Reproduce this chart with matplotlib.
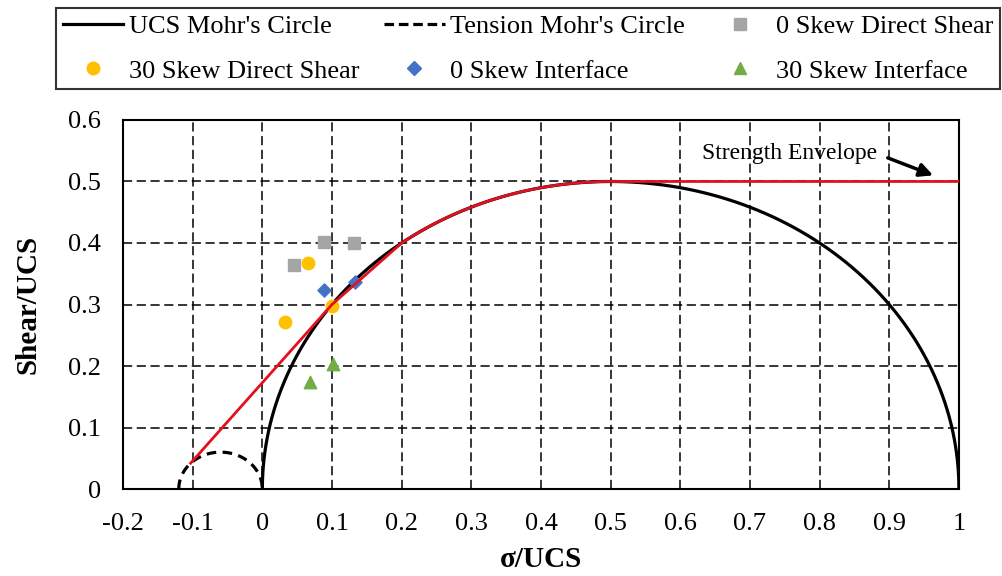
import numpy as np
import matplotlib.pyplot as plt
from matplotlib.lines import Line2D

plt.rcParams['font.family'] = ['Liberation Serif', 'DejaVu Serif']

# Mohr's circles (normalised by UCS)
ucs = 1.0
tension = 0.12

# Test data (sigma/UCS, shear/UCS)
ds0_x = [0.045, 0.088, 0.131]
ds0_y = [0.364, 0.402, 0.400]
ds30_x = [0.033, 0.066, 0.100]
ds30_y = [0.272, 0.367, 0.297]
int0_x = [0.088, 0.133]
int0_y = [0.324, 0.337]
int30_x = [0.069, 0.102]
int30_y = [0.174, 0.204]

# Strength envelope: straight part, then along UCS circle, then flat
env_x = [-0.103, 0.100, 0.200]
env_y = [0.042, 0.300, 0.400]

xticks = [-0.2, -0.1, 0, 0.1, 0.2, 0.3, 0.4, 0.5, 0.6, 0.7, 0.8, 0.9, 1]
xlabels = ['-0.2', '-0.1', '0', '0.1', '0.2', '0.3', '0.4', '0.5', '0.6', '0.7', '0.8', '0.9', '1']
yticks = [0, 0.1, 0.2, 0.3, 0.4, 0.5, 0.6]
ylabels = ['0', '0.1', '0.2', '0.3', '0.4', '0.5', '0.6']

fig = plt.figure(figsize=(10.02, 5.76), dpi=100)
ax = fig.add_axes([0.1228, 0.151, 0.8342, 0.6407])

th = np.linspace(0, np.pi, 400)
ucs_x = ucs / 2 - ucs / 2 * np.cos(th)
ucs_y = ucs / 2 * np.sin(th)
ten_x = -tension / 2 - tension / 2 * np.cos(th)
ten_y = tension / 2 * np.sin(th)

ax.plot(ucs_x, ucs_y, color='black', lw=2.3, zorder=3)
ax.plot(ten_x, ten_y, color='black', lw=2.3, ls=(0, (3, 2)), zorder=3)

ax.scatter(ds0_x, ds0_y, marker='s', s=75, color='#A5A5A5', zorder=4)
ax.scatter(ds30_x, ds30_y, marker='o', s=80, color='#FFC000', zorder=4)
ax.scatter(int0_x, int0_y, marker='D', s=45, color='#4472C4', zorder=4)
ax.scatter(int30_x, int30_y, marker='^', s=80, color='#70AD47', zorder=4)

# envelope
arc = (ucs_x >= env_x[-1]) & (ucs_x <= ucs / 2)
full_x = np.concatenate([env_x, ucs_x[arc], [ucs / 2, ucs]])
full_y = np.concatenate([env_y, ucs_y[arc], [ucs / 2, ucs / 2]])
ax.plot(full_x, full_y, color='#E3101E', lw=2, zorder=5)

ax.annotate('Strength Envelope', xy=(0.963, 0.51), xytext=(0.757, 0.545),
            fontsize=17, ha='center', va='center',
            arrowprops=dict(arrowstyle='-|>', color='black', lw=2.5,
                            mutation_scale=20, shrinkA=6, shrinkB=0,
                            relpos=(1, 0.5)))

ax.set_xlim(-0.2, 1)
ax.set_ylim(0, 0.6)
ax.set_xticks(xticks)
ax.set_xticklabels(xlabels)
ax.set_yticks(yticks)
ax.set_yticklabels(ylabels)
ax.tick_params(length=0, labelsize=19)
ax.tick_params(axis='x', pad=17)
ax.tick_params(axis='y', pad=16)
ax.grid(True, color='black', ls=(0, (6, 3)), lw=1.1)
for sp in ax.spines.values():
    sp.set_linewidth(1.5)
ax.set_xlabel('σ/UCS', fontsize=21, fontweight='bold', labelpad=8)
ax.set_ylabel('Shear/UCS', fontsize=21, fontweight='bold', labelpad=19)

handles = [
    Line2D([], [], color='black', lw=2.3),
    Line2D([], [], color='#FFC000', marker='o', ls='none', ms=9),
    Line2D([], [], color='black', lw=2.3, ls=(0, (3, 1.5))),
    Line2D([], [], color='#4472C4', marker='D', ls='none', ms=7),
    Line2D([], [], color='#A5A5A5', marker='s', ls='none', ms=9),
    Line2D([], [], color='#70AD47', marker='^', ls='none', ms=9),
]
labels = ["UCS Mohr's Circle", '30 Skew Direct Shear', "Tension Mohr's Circle",
          '0 Skew Interface', '0 Skew Direct Shear', '30 Skew Interface']
leg = fig.legend(handles, labels, ncol=3, loc='center', mode='expand',
                 bbox_to_anchor=(0.0559, 0.9158 - 0.07, 0.942, 0.14), fontsize=19,
                 frameon=True, fancybox=False, edgecolor='black',
                 handlelength=2.3, handletextpad=0.2, borderaxespad=0,
                 borderpad=0.25, labelspacing=0.8, columnspacing=0.5)
leg.get_frame().set_linewidth(1.5)

fig.savefig('out.png', dpi=100)
